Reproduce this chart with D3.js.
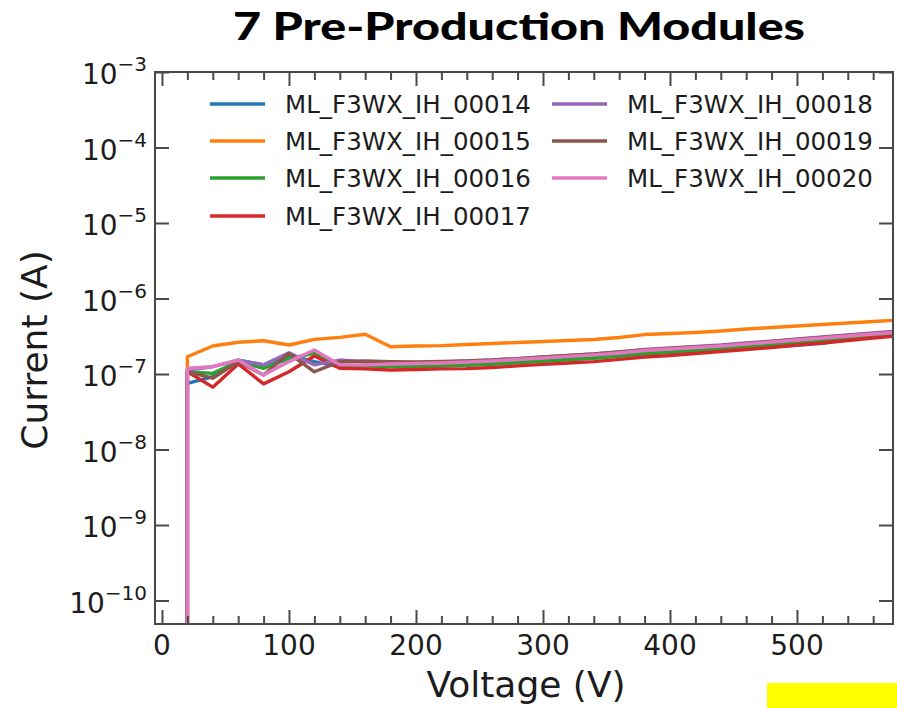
<!DOCTYPE html>
<html>
<head>
<meta charset="utf-8">
<script src="https://cdn.jsdelivr.net/npm/d3@7"></script>
<style>
  html, body { margin: 0; padding: 0; background: #fff; }
  svg { display: block; }
</style>
</head>
<body>
<svg id="chart" width="897" height="708"></svg>
<script>
// Bias voltage steps (V); the first step at 20 V is the low reading before the sensor settles
const voltages = [20, 20, 40, 60, 80, 100, 120, 140, 160, 180, 200, 220, 240, 260, 280, 300,
                  320, 340, 360, 380, 400, 420, 440, 460, 480, 500, 520, 540, 560, 580];

const moduleNames = ["ML_F3WX_IH_00014", "ML_F3WX_IH_00015", "ML_F3WX_IH_00016",
                     "ML_F3WX_IH_00017", "ML_F3WX_IH_00018", "ML_F3WX_IH_00019",
                     "ML_F3WX_IH_00020"];

// Leakage current (A) per module
const current00014 = [1e-12, 0.75e-7, 0.92e-7, 1.53e-7, 1.32e-7, 1.79e-7, 1.46e-7, 1.25e-7, 1.28e-7, 1.28e-7,
  1.26e-7, 1.28e-7, 1.31e-7, 1.36e-7, 1.42e-7, 1.49e-7, 1.56e-7, 1.63e-7, 1.73e-7, 1.85e-7,
  1.93e-7, 2.02e-7, 2.10e-7, 2.20e-7, 2.30e-7, 2.40e-7, 2.55e-7, 2.85e-7, 3.08e-7, 3.30e-7];
const current00015 = [1e-12, 1.69e-7, 2.35e-7, 2.63e-7, 2.76e-7, 2.42e-7, 2.88e-7, 3.06e-7, 3.36e-7, 2.30e-7,
  2.35e-7, 2.38e-7, 2.46e-7, 2.54e-7, 2.61e-7, 2.69e-7, 2.78e-7, 2.86e-7, 3.04e-7, 3.33e-7,
  3.44e-7, 3.55e-7, 3.71e-7, 3.94e-7, 4.13e-7, 4.32e-7, 4.52e-7, 4.74e-7, 4.96e-7, 5.19e-7];
const current00016 = [1e-12, 1.07e-7, 1.02e-7, 1.46e-7, 1.19e-7, 1.61e-7, 1.88e-7, 1.32e-7, 1.28e-7, 1.26e-7,
  1.26e-7, 1.28e-7, 1.31e-7, 1.36e-7, 1.42e-7, 1.49e-7, 1.56e-7, 1.63e-7, 1.73e-7, 1.87e-7,
  1.95e-7, 2.05e-7, 2.15e-7, 2.28e-7, 2.42e-7, 2.57e-7, 2.74e-7, 2.91e-7, 3.10e-7, 3.29e-7];
const current00017 = [1e-12, 1.07e-7, 0.67e-7, 1.36e-7, 0.74e-7, 1.07e-7, 1.73e-7, 1.19e-7, 1.17e-7, 1.13e-7,
  1.15e-7, 1.17e-7, 1.18e-7, 1.22e-7, 1.28e-7, 1.34e-7, 1.40e-7, 1.46e-7, 1.56e-7, 1.68e-7,
  1.76e-7, 1.87e-7, 1.99e-7, 2.11e-7, 2.24e-7, 2.42e-7, 2.57e-7, 2.78e-7, 3.00e-7, 3.19e-7];
const current00018 = [1e-12, 1.13e-7, 1.25e-7, 1.53e-7, 1.32e-7, 1.91e-7, 1.32e-7, 1.53e-7, 1.44e-7, 1.42e-7,
  1.42e-7, 1.44e-7, 1.49e-7, 1.53e-7, 1.60e-7, 1.68e-7, 1.76e-7, 1.84e-7, 1.96e-7, 2.11e-7,
  2.21e-7, 2.31e-7, 2.42e-7, 2.58e-7, 2.73e-7, 2.91e-7, 3.09e-7, 3.29e-7, 3.50e-7, 3.72e-7];
const current00019 = [1e-12, 1.07e-7, 0.88e-7, 1.46e-7, 0.97e-7, 1.88e-7, 1.07e-7, 1.46e-7, 1.49e-7, 1.46e-7,
  1.44e-7, 1.47e-7, 1.49e-7, 1.53e-7, 1.60e-7, 1.68e-7, 1.76e-7, 1.84e-7, 1.96e-7, 2.08e-7,
  2.18e-7, 2.28e-7, 2.38e-7, 2.54e-7, 2.69e-7, 2.86e-7, 3.04e-7, 3.24e-7, 3.44e-7, 3.66e-7];
const current00020 = [1e-12, 1.19e-7, 1.25e-7, 1.53e-7, 0.97e-7, 1.46e-7, 2.08e-7, 1.32e-7, 1.32e-7, 1.36e-7,
  1.38e-7, 1.40e-7, 1.44e-7, 1.49e-7, 1.56e-7, 1.63e-7, 1.71e-7, 1.79e-7, 1.90e-7, 2.05e-7,
  2.14e-7, 2.24e-7, 2.35e-7, 2.50e-7, 2.65e-7, 2.82e-7, 3.00e-7, 3.19e-7, 3.39e-7, 3.60e-7];

const seriesCurrents = [current00014, current00015, current00016, current00017,
                        current00018, current00019, current00020];
const seriesColors = ["#1f77b4", "#ff7f0e", "#2ca02c", "#d62728", "#9467bd", "#8c564b", "#e377c2"];

const xMajorTicks = [0, 100, 200, 300, 400, 500];
const yDecadeExponents = [-3, -4, -5, -6, -7, -8, -9, -10];

const titleText = "7 Pre-Production Modules";
const xLabel = "Voltage (V)";
const yLabel = "Current (A)";

// ---- layout ----
const svg = d3.select("#chart");
const plot = { left: 155, right: 893, top: 72, bottom: 624 };
const axisColor = "#4a4a4a";
const textColor = "#1c1c1c";
const font = "'DejaVu Sans', sans-serif";

const x = d3.scaleLinear().domain([-5.5, 575.6]).range([plot.left, plot.right]);
const y = d3.scaleLog().domain([Math.pow(10, -10.311), 1e-3]).range([plot.bottom, plot.top]);

// title
svg.append("text")
  .attr("x", 519).attr("y", 40)
  .attr("text-anchor", "middle")
  .attr("font-family", "Lato, 'Open Sans', sans-serif")
  .attr("font-weight", 900)
  .attr("font-size", 38)
  .attr("fill", "#000")
  .attr("textLength", 572)
  .attr("lengthAdjust", "spacingAndGlyphs")
  .text(titleText);

// clip for data lines
svg.append("defs").append("clipPath").attr("id", "plotClip")
  .append("rect")
  .attr("x", plot.left).attr("y", plot.top)
  .attr("width", plot.right - plot.left).attr("height", plot.bottom - plot.top);

// data lines
const line = d3.line()
  .x((d, i) => x(voltages[i]))
  .y(d => y(d));

const linesG = svg.append("g").attr("clip-path", "url(#plotClip)");
seriesCurrents.forEach((vals, k) => {
  linesG.append("path")
    .datum(vals)
    .attr("d", line)
    .attr("fill", "none")
    .attr("stroke", seriesColors[k])
    .attr("stroke-width", 3.4)
    .attr("stroke-linejoin", "round");
});

// axes: ticks pointing inward on all four sides
const xMinorTicks = d3.range(0, 580, 20).filter(v => v % 100 !== 0);
const yDecades = yDecadeExponents.map(e => Math.pow(10, e));

const bottomAxis = d3.axisTop(x).tickValues(xMajorTicks).tickSize(14).tickFormat("");
const bottomMinor = d3.axisTop(x).tickValues(xMinorTicks).tickSize(8).tickFormat("");
const topAxis = d3.axisBottom(x).tickValues(xMajorTicks).tickSize(14).tickFormat("");
const topMinor = d3.axisBottom(x).tickValues(xMinorTicks).tickSize(8).tickFormat("");
const leftAxis = d3.axisRight(y).tickValues(yDecades).tickSize(14).tickFormat("");
const rightAxis = d3.axisLeft(y).tickValues(yDecades).tickSize(14).tickFormat("");

function styleAxis(g) {
  g.select(".domain").remove();
  g.selectAll(".tick line").attr("stroke", axisColor).attr("stroke-width", 2);
}
svg.append("g").attr("transform", `translate(0,${plot.bottom})`).call(bottomAxis).call(styleAxis);
svg.append("g").attr("transform", `translate(0,${plot.bottom})`).call(bottomMinor).call(styleAxis);
svg.append("g").attr("transform", `translate(0,${plot.top})`).call(topAxis).call(styleAxis);
svg.append("g").attr("transform", `translate(0,${plot.top})`).call(topMinor).call(styleAxis);
svg.append("g").attr("transform", `translate(${plot.left},0)`).call(leftAxis).call(styleAxis);
svg.append("g").attr("transform", `translate(${plot.right},0)`).call(rightAxis).call(styleAxis);

// frame
svg.append("rect")
  .attr("x", plot.left).attr("y", plot.top)
  .attr("width", plot.right - plot.left).attr("height", plot.bottom - plot.top)
  .attr("fill", "none").attr("stroke", axisColor).attr("stroke-width", 2);

// x tick labels
svg.append("g").selectAll("text").data(xMajorTicks).join("text")
  .attr("x", d => x(d)).attr("y", 655)
  .attr("text-anchor", "middle")
  .attr("font-family", font).attr("font-size", 28).attr("fill", textColor)
  .text(d => d);

// y tick labels as powers of ten
const yLab = svg.append("g").selectAll("text").data(yDecadeExponents).join("text")
  .attr("x", 147).attr("y", e => y(Math.pow(10, e)) + 12)
  .attr("text-anchor", "end")
  .attr("font-family", font).attr("fill", textColor);
yLab.append("tspan").attr("font-size", 28).text("10");
yLab.append("tspan").attr("font-size", 20).attr("dy", -13).text(e => "\u2212" + Math.abs(e));

// axis titles
svg.append("text")
  .attr("x", 526).attr("y", 697)
  .attr("text-anchor", "middle")
  .attr("font-family", font).attr("font-size", 36).attr("fill", textColor)
  .text(xLabel);
svg.append("text")
  .attr("transform", "translate(47,350) rotate(-90)")
  .attr("text-anchor", "middle")
  .attr("font-family", font).attr("font-size", 36).attr("fill", textColor)
  .text(yLabel);

// legend: two columns
const legendRows = [104, 141, 178, 216];
const legendCols = [{ lineX: 210, textX: 285 }, { lineX: 552, textX: 627 }];
const legend = svg.append("g");
moduleNames.forEach((name, i) => {
  const col = legendCols[i < 4 ? 0 : 1];
  const rowY = legendRows[i < 4 ? i : i - 4];
  legend.append("line")
    .attr("x1", col.lineX).attr("x2", col.lineX + 55)
    .attr("y1", rowY).attr("y2", rowY)
    .attr("stroke", seriesColors[i]).attr("stroke-width", 3.4);
  legend.append("text")
    .attr("x", col.textX).attr("y", rowY + 9)
    .attr("font-family", font).attr("font-size", 24.5).attr("fill", textColor)
    .text(name);
});

// highlight box at the lower right corner
svg.append("rect")
  .attr("x", 767).attr("y", 683).attr("width", 130).attr("height", 25)
  .attr("fill", "#ffff00");
</script>
</body>
</html>
